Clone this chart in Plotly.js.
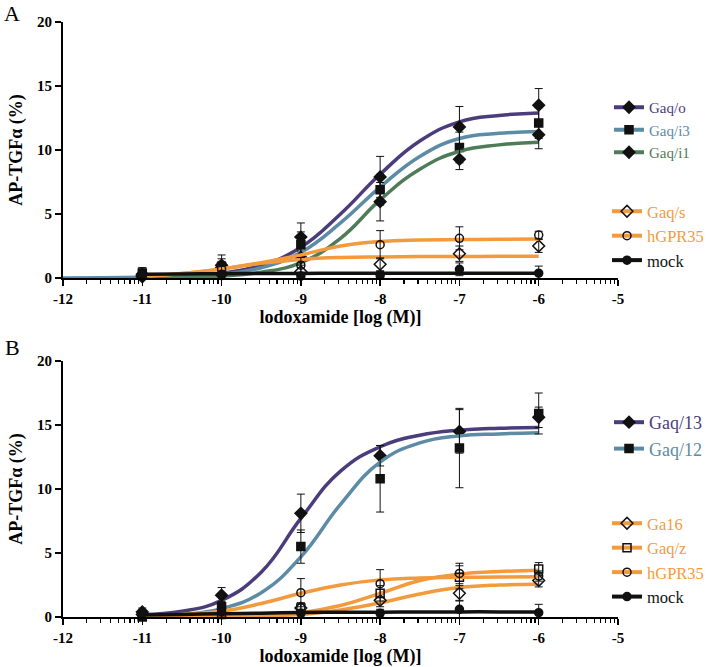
<!DOCTYPE html>
<html>
<head>
<meta charset="utf-8">
<script src="https://cdn.plot.ly/plotly-3.0.1.min.js"></script>
<style>html,body{margin:0;padding:0;background:#fff;}#chart{width:709px;height:667px;}</style>
</head>
<body>
<div id="chart"></div>
<script>
// ---------- data ----------
const doseX = [-11, -10, -9, -8, -7, -6];
const curveX = [-11, -10.5, -10, -9.5, -9, -8.5, -8, -7.5, -7, -6.5, -6];
const curveXLong = [-12, -11.5, -11, -10.5, -10, -9.5, -9, -8.5, -8, -7.5, -7, -6.5, -6];
const xTickVals = [-12, -11, -10, -9, -8, -7, -6, -5];
const xTickText = ['-12', '-11', '-10', '-9', '-8', '-7', '-6', '-5'];
const yTickVals = [0, 5, 10, 15, 20];
const yTickText = ['0', '5', '10', '15', '20'];

// Panel A points (mean) and errors
const A_Gaqo = [0.3, 1.0, 3.2, 7.9, 11.8, 13.5];
const A_Gaqo_err = [0.5, 0.8, 1.1, 1.6, 1.6, 1.3];
const A_Gaqi3 = [0.4, 0.9, 2.6, 6.9, 10.2, 12.1];
const A_Gaqi3_err = [0.4, 0.6, 1.0, 1.2, 1.2, 1.2];
const A_Gaqi1 = [0.2, 0.8, 1.6, 5.96, 9.27, 11.2];
const A_Gaqi1_err = [0.3, 0.5, 0.8, 1.5, 0.8, 1.1];
const A_Gaqs = [0.1, 0.3, 0.5, 1.07, 1.9, 2.5];
const A_Gaqs_err = [0.3, 0.3, 0.5, 0.5, 0.6, 0.5];
const A_hGPR35 = [0.2, 0.7, 1.0, 2.6, 3.1, 3.35];
const A_hGPR35_err = [0.3, 0.3, 0.6, 1.1, 0.9, 0.3];
const A_mock = [0.1, 0.3, 0.15, 0.2, 0.68, 0.38];
const A_mock_err = [0.2, 0.2, 0.3, 0.3, 0.5, 0.55];

// Panel A fitted curves
const A_Gaqo_fit = [0.05, 0.12, 0.37, 1.0, 2.4, 5.0, 8.1, 10.7, 12.2, 12.7, 12.9];
const A_Gaqi3_fit = [0.0, 0.02, 0.05, 0.1, 0.3, 0.8, 2.0, 4.3, 7.1, 9.5, 10.9, 11.3, 11.45];
const A_Gaqi1_fit = [0.02, 0.05, 0.15, 0.45, 1.2, 3.1, 6.1, 8.5, 9.9, 10.4, 10.6];
const A_Gaqs_fit = [0.15, 0.35, 0.7, 1.15, 1.45, 1.6, 1.65, 1.67, 1.68, 1.69, 1.7];
const A_hGPR35_fit = [0.15, 0.35, 0.7, 1.2, 1.8, 2.5, 2.85, 2.97, 3.0, 3.02, 3.05];
const A_mock_fit = [0.3, 0.32, 0.34, 0.35, 0.36, 0.37, 0.37, 0.37, 0.38, 0.38, 0.38];

// Panel B points (mean) and errors
const B_Gaq13 = [0.4, 1.7, 8.1, 12.6, 14.5, 15.6];
const B_Gaq13_err = [0.3, 0.6, 1.5, 0.8, 1.7, 0.8];
const B_Gaq12 = [0.0, 0.8, 5.5, 10.8, 13.2, 15.9];
const B_Gaq12_err = [0.2, 0.4, 1.3, 2.6, 3.1, 1.6];
const B_Ga16 = [0.2, 0.3, 0.7, 1.3, 1.85, 2.85];
const B_Ga16_err = [0.2, 0.2, 0.4, 0.5, 0.6, 0.5];
const B_Gaqz = [0.1, 0.2, 0.7, 1.85, 3.1, 3.75];
const B_Gaqz_err = [0.2, 0.2, 0.4, 0.6, 0.9, 0.5];
const B_hGPR35 = [0.3, 0.6, 1.9, 2.6, 3.4, 3.2];
const B_hGPR35_err = [0.2, 0.3, 1.1, 1.1, 0.8, 0.4];
const B_mock = [0.3, 0.4, 0.3, 0.3, 0.6, 0.34];
const B_mock_err = [0.2, 0.2, 0.3, 0.3, 0.7, 0.65];

// Panel B fitted curves
const B_Gaq13_fit = [0.2, 0.45, 1.3, 3.5, 7.7, 11.4, 13.3, 14.2, 14.6, 14.75, 14.8];
const B_Gaq12_fit = [0.1, 0.2, 0.65, 1.9, 4.7, 8.8, 12.1, 13.6, 14.15, 14.3, 14.4];
const B_Ga16_fit = [0.0, 0.02, 0.05, 0.1, 0.2, 0.55, 1.1, 1.8, 2.3, 2.5, 2.55];
const B_Gaqz_fit = [0.0, 0.02, 0.04, 0.12, 0.34, 0.9, 1.85, 2.85, 3.35, 3.55, 3.65];
const B_hGPR35_fit = [0.1, 0.2, 0.45, 1.05, 1.85, 2.5, 2.9, 3.05, 3.1, 3.12, 3.15];
const B_mock_fit = [0.15, 0.2, 0.25, 0.3, 0.35, 0.37, 0.38, 0.39, 0.4, 0.4, 0.4];

// ---------- styles ----------
const PURPLE = '#4B3C7B', STEEL = '#5B8BA5', GREEN = '#4F7C58', ORANGE = '#F39B3C', BLACK = '#111111';
const SERIF = 'Times New Roman, Liberation Serif, DejaVu Serif, serif';
const bold = s => '<b>' + s + '</b>';

const traces = [];
function addSeries(opt) {
  const xa = opt.panel === 'A' ? 'x' : 'x2';
  const ya = opt.panel === 'A' ? 'y' : 'y2';
  const marker = {symbol: opt.symbol, size: opt.size || 8, color: BLACK, line: {color: BLACK, width: 1.5}};
  traces.push({
    x: opt.cx, y: opt.cy, xaxis: xa, yaxis: ya, mode: 'lines', type: 'scatter',
    line: {color: opt.color, width: 3.5, shape: 'spline', smoothing: 1.3},
    showlegend: false, hoverinfo: 'skip', cliponaxis: false
  });
  traces.push({
    x: doseX, y: opt.y, xaxis: xa, yaxis: ya, mode: 'markers', type: 'scatter',
    marker: marker,
    error_y: {type: 'data', array: opt.err, visible: true, color: BLACK, thickness: 1, width: 4},
    showlegend: false, cliponaxis: false
  });
  traces.push({
    x: [null], y: [null], xaxis: xa, yaxis: ya, mode: 'lines+markers', type: 'scatter',
    line: {color: opt.color, width: 4}, marker: marker,
    name: '<span style="color:' + opt.textColor + '">' + opt.name + '</span>',
    legend: opt.legend, showlegend: true
  });
}

// Panel A
addSeries({panel: 'A', legend: 'legend', name: 'Gaq/o', color: PURPLE, textColor: PURPLE, symbol: 'diamond', size: 9, y: A_Gaqo, err: A_Gaqo_err, cx: curveX, cy: A_Gaqo_fit});
addSeries({panel: 'A', legend: 'legend', name: 'Gaq/i3', color: STEEL, textColor: STEEL, symbol: 'square', y: A_Gaqi3, err: A_Gaqi3_err, cx: curveXLong, cy: A_Gaqi3_fit});
addSeries({panel: 'A', legend: 'legend', name: 'Gaq/i1', color: GREEN, textColor: GREEN, symbol: 'diamond', size: 9, y: A_Gaqi1, err: A_Gaqi1_err, cx: curveX, cy: A_Gaqi1_fit});
addSeries({panel: 'A', legend: 'legend2', name: 'Gaq/s', color: ORANGE, textColor: ORANGE, symbol: 'diamond-open', size: 9, y: A_Gaqs, err: A_Gaqs_err, cx: curveX, cy: A_Gaqs_fit});
addSeries({panel: 'A', legend: 'legend2', name: 'hGPR35', color: ORANGE, textColor: ORANGE, symbol: 'circle-open', y: A_hGPR35, err: A_hGPR35_err, cx: curveX, cy: A_hGPR35_fit});
addSeries({panel: 'A', legend: 'legend2', name: 'mock', color: BLACK, textColor: BLACK, symbol: 'circle', y: A_mock, err: A_mock_err, cx: curveX, cy: A_mock_fit});

// Panel B
addSeries({panel: 'B', legend: 'legend3', name: 'Gaq/13', color: PURPLE, textColor: PURPLE, symbol: 'diamond', size: 9, y: B_Gaq13, err: B_Gaq13_err, cx: curveX, cy: B_Gaq13_fit});
addSeries({panel: 'B', legend: 'legend3', name: 'Gaq/12', color: STEEL, textColor: STEEL, symbol: 'square', y: B_Gaq12, err: B_Gaq12_err, cx: curveX, cy: B_Gaq12_fit});
addSeries({panel: 'B', legend: 'legend4', name: 'Ga16', color: ORANGE, textColor: ORANGE, symbol: 'diamond-open', size: 9, y: B_Ga16, err: B_Ga16_err, cx: curveX, cy: B_Ga16_fit});
addSeries({panel: 'B', legend: 'legend4', name: 'Gaq/z', color: ORANGE, textColor: ORANGE, symbol: 'square-open', y: B_Gaqz, err: B_Gaqz_err, cx: curveX, cy: B_Gaqz_fit});
addSeries({panel: 'B', legend: 'legend4', name: 'hGPR35', color: ORANGE, textColor: ORANGE, symbol: 'circle-open', y: B_hGPR35, err: B_hGPR35_err, cx: curveX, cy: B_hGPR35_fit});
addSeries({panel: 'B', legend: 'legend4', name: 'mock', color: BLACK, textColor: BLACK, symbol: 'circle', y: B_mock, err: B_mock_err, cx: curveX, cy: B_mock_fit});

// log-style minor ticks within each decade
const minorVals = [];
for (let d = -12; d < -5; d++) for (let k = 2; k <= 9; k++) minorVals.push(d + Math.log10(k));

const W = 709, H = 667;
function xAxis(anchor) {
  return {
    domain: [63 / W, 618 / W], range: [-12, -5], anchor: anchor, automargin: false,
    tickmode: 'array', tickvals: xTickVals, ticktext: xTickText.map(bold),
    ticks: 'outside', ticklen: 6, tickwidth: 1.5, tickcolor: 'black',
    showline: true, linewidth: 2, linecolor: 'black', showgrid: false, zeroline: false,
    minor: {tickmode: 'array', tickvals: minorVals, ticks: 'outside', ticklen: 4, tickwidth: 1.2, tickcolor: 'black', showgrid: false},
    tickfont: {family: SERIF, size: 15, color: 'black'},
    title: {text: bold('lodoxamide [log (M)]'), font: {family: SERIF, size: 18, color: 'black'}, standoff: 4}
  };
}
function yAxis(anchor, top, bottom) {
  return {
    domain: [1 - bottom / H, 1 - top / H], range: [0, 20], anchor: anchor, automargin: false,
    tickmode: 'array', tickvals: yTickVals, ticktext: yTickText.map(bold),
    ticks: 'outside', ticklen: 6, tickwidth: 1.5, tickcolor: 'black',
    showline: true, linewidth: 2, linecolor: 'black', showgrid: false, zeroline: false,
    tickfont: {family: SERIF, size: 15, color: 'black'},
    title: {text: bold('AP-TGFα (%)'), font: {family: SERIF, size: 18, color: 'black'}, standoff: 10}
  };
}

function mkLegend(topPx, size, xPx) {
  return {
    x: xPx / W, y: 1 - topPx / H, xanchor: 'left', yanchor: 'top', bgcolor: 'rgba(0,0,0,0)', borderwidth: 0,
    font: {family: SERIF, size: size, color: 'black'}, itemclick: false, itemdoubleclick: false
  };
}

const layout = {
  width: W, height: H, margin: {l: 0, r: 0, t: 0, b: 0, autoexpand: false},
  paper_bgcolor: 'white', plot_bgcolor: 'white',
  xaxis: xAxis('y'), yaxis: yAxis('x', 22, 278),
  xaxis2: xAxis('y2'), yaxis2: yAxis('x2', 361, 617),
  legend: mkLegend(91, 15, 609),
  legend2: mkLegend(194, 16.5, 607),
  legend3: mkLegend(404, 18, 609),
  legend4: mkLegend(506, 16.5, 607),
  annotations: [
    {text: 'A', xref: 'paper', yref: 'paper', x: 12 / W, y: 1 - 13 / H, xanchor: 'center', yanchor: 'middle', showarrow: false, font: {family: SERIF, size: 22, color: 'black'}},
    {text: 'B', xref: 'paper', yref: 'paper', x: 12 / W, y: 1 - 347 / H, xanchor: 'center', yanchor: 'middle', showarrow: false, font: {family: SERIF, size: 22, color: 'black'}}
  ],
  showlegend: true
};

Plotly.newPlot('chart', traces, layout, {displayModeBar: false, staticPlot: true});
</script>
</body>
</html>
